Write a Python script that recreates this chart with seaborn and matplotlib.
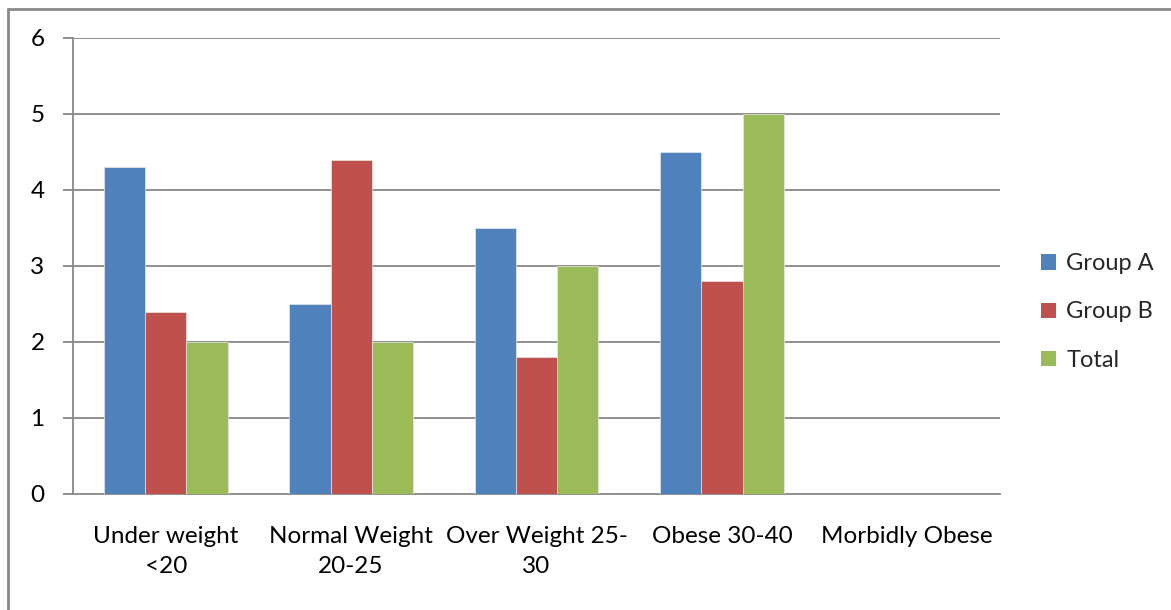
import matplotlib
matplotlib.use("Agg")
import matplotlib.pyplot as plt
from matplotlib.lines import Line2D
from matplotlib.patches import Patch
import pandas as pd
import seaborn as sns

categories = ["Under weight\n<20", "Normal Weight\n20-25", "Over Weight 25-\n30",
              "Obese 30-40", "Morbidly Obese"]
group_a = [4.3, 2.5, 3.5, 4.5]
group_b = [2.4, 4.4, 1.8, 2.8]
total = [2.0, 2.0, 3.0, 5.0]
series_names = ["Group A", "Group B", "Total"]
colors = ["#4F81BD", "#C0504D", "#9BBB59"]
yticks = [0, 1, 2, 3, 4, 5, 6]

rows = []
for name, vals in zip(series_names, [group_a, group_b, total]):
    for cat, v in zip(categories, vals):
        rows.append({"category": cat, "series": name, "value": v})
df = pd.DataFrame(rows)

sns.set_theme(style="white")
plt.rcParams["font.family"] = ["Lato", "DejaVu Sans"]

fig = plt.figure(figsize=(11.71, 6.10), dpi=100)
ax = fig.add_axes([73 / 1171, 1 - 494 / 610, (1000 - 73) / 1171, (494 - 38) / 610])

sns.barplot(data=df, x="category", y="value", hue="series", order=categories,
            hue_order=series_names, palette=colors, width=1 / 1.5, gap=0,
            errorbar=None, saturation=1, ax=ax, legend=False,
            edgecolor="#e8e8e8", linewidth=0.5, zorder=3)

grid_c = "#888888"
ax.set_ylim(0, 6)
ax.set_xlim(-0.5, len(categories) - 0.5)
ax.set_yticks(yticks)
ax.set_yticklabels([str(t) for t in yticks])
for t in yticks[1:]:
    ax.axhline(t, color=grid_c, lw=1.3, zorder=1)

for s in ["top", "right"]:
    ax.spines[s].set_visible(False)
for s in ["left", "bottom"]:
    ax.spines[s].set_color(grid_c)
    ax.spines[s].set_linewidth(1.3)

ax.set_xticks([i - 0.5 for i in range(len(categories) + 1)], minor=True)
ax.set_xticks(range(len(categories)))
ax.set_xticklabels(categories, linespacing=1.55)
ax.tick_params(axis="x", which="major", length=0, pad=23, labelsize=17.5, colors="black")
ax.tick_params(axis="x", which="minor", length=7, width=1.3, color=grid_c, direction="out")
ax.tick_params(axis="y", length=7.5, width=1.3, color=grid_c, direction="out", pad=13,
               labelsize=17.5, labelcolor="black", left=True)
ax.set_xlabel("")
ax.set_ylabel("")

handles = [Patch(facecolor=c, edgecolor="none") for c in colors]
fig.legend(handles, series_names, loc="center left", bbox_to_anchor=(1041 / 1171, 1 - 312 / 610),
           frameon=False, fontsize=17, handlelength=0.62, handleheight=0.62,
           handletextpad=0.45, labelspacing=1.15, borderpad=0, borderaxespad=0)

# outer chart frame
border_c = "#8a8a8a"
fig.add_artist(Line2D([8 / 1171, 8 / 1171], [0, 1 - 9 / 610], transform=fig.transFigure,
                      color=border_c, lw=2))
fig.add_artist(Line2D([8 / 1171, 1], [1 - 9 / 610, 1 - 9 / 610], transform=fig.transFigure,
                      color=border_c, lw=2))

fig.savefig("out.png", dpi=100)
